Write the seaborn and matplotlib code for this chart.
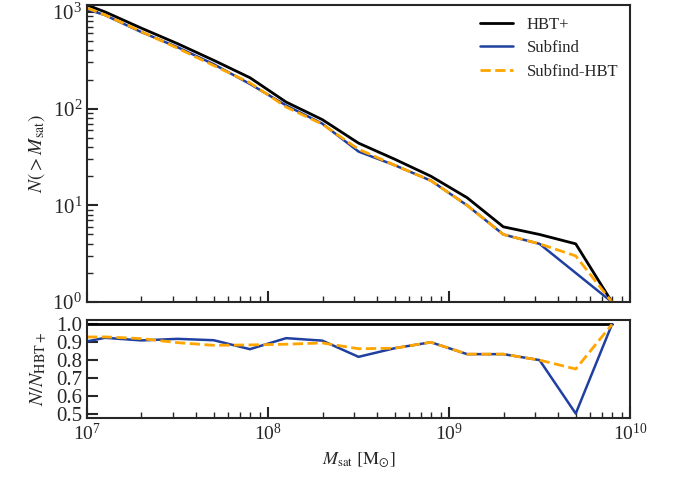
import numpy as np
import pandas as pd
import matplotlib
matplotlib.use("Agg")
import matplotlib.pyplot as plt
import seaborn as sns

# log10 of satellite mass at which the cumulative counts are taken
log_msat = [7.0, 7.1, 7.3, 7.5, 7.7, 7.9, 8.1, 8.3, 8.5, 8.7, 8.9, 9.1, 9.3, 9.5, 9.7, 9.9]

# N(>M_sat) for each finder
n_hbt = [1180, 1000, 680, 470, 316, 209, 117, 77, 44, 30, 20, 12, 6, 5, 4, 1]
n_subfind = [1068, 925, 619, 432, 288, 180, 108, 70, 36, 26, 18, 10, 5, 4, 2, 1]
n_subfind_hbt = [1097, 930, 626, 422, 279, 185, 104, 69, 38, 26, 18, 10, 5, 4, 3, 1]

df = pd.DataFrame({
    "msat": 10 ** np.array(log_msat),
    "HBT+": n_hbt,
    "Subfind": n_subfind,
    "Subfind-HBT": n_subfind_hbt,
})
for col in ["HBT+", "Subfind", "Subfind-HBT"]:
    df["r_" + col] = df[col] / df["HBT+"]

sns.set_style("ticks")
plt.rcParams["font.family"] = ["Liberation Serif", "DejaVu Serif"]
plt.rcParams["mathtext.fontset"] = "stix"
plt.rcParams["font.size"] = 12
plt.rcParams["axes.linewidth"] = 1.5

styles = {
    "HBT+": dict(color="black", linestyle="-", linewidth=2.0),
    "Subfind": dict(color="#2040a0", linestyle="-", linewidth=1.8),
    "Subfind-HBT": dict(color="orange", linestyle="--", linewidth=2.0),
}

fig = plt.figure(figsize=(6.76, 4.88), dpi=100)
ax1 = fig.add_axes([0.1287, 0.381, 0.8033, 0.6088])
ax2 = fig.add_axes([0.1287, 0.1434, 0.8033, 0.2009], sharex=ax1)

for name, st in styles.items():
    sns.lineplot(data=df, x="msat", y=name, ax=ax1, label=name, **st)
    sns.lineplot(data=df, x="msat", y="r_" + name, ax=ax2, legend=False, **st)

ax1.set_xscale("log")
ax1.set_yscale("log")
ax1.set_xlim(1e7, 1e10)
ax1.set_ylim(1, df["HBT+"].max())
ax1.set_xlabel("")
ax1.set_ylabel(r"$N(>M_{\rm sat})$", fontsize=14)
ax1.tick_params(labelbottom=False)
ax1.legend(loc="upper right", frameon=False, fontsize=12, handlelength=2.0,
           borderaxespad=0.3, labelspacing=0.45)

ax2.set_ylabel(r"$N/N_{\rm HBT+}$", fontsize=14.5)
ax2.set_xlabel(r"$M_{\rm sat}\ [\rm M_{\odot}]$", fontsize=13)
ax2.set_yticks([0.5, 0.6, 0.7, 0.8, 0.9, 1.0])

for ax in (ax1, ax2):
    ax.tick_params(which="major", direction="in", length=8, width=1.5)
    ax.tick_params(which="minor", direction="in", length=4, width=1.0)
    ax.tick_params(axis="x", labelsize=14)
    ax.tick_params(axis="y", labelsize=15)

fig.align_ylabels([ax1, ax2])
fig.savefig("out.png", dpi=100)
